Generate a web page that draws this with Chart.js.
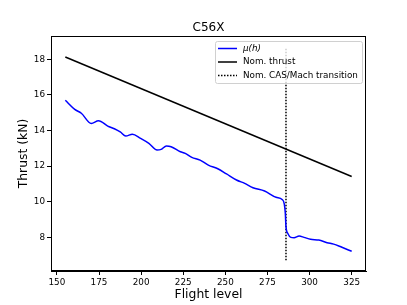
<!DOCTYPE html>
<html>
<head>
<meta charset="utf-8">
<script src="https://cdn.jsdelivr.net/npm/chart.js@4/dist/chart.umd.min.js"></script>
<style>
  html, body { margin: 0; padding: 0; background: #fff; }
  #wrap { width: 407px; height: 305px; }
</style>
</head>
<body>
<div id="wrap"><canvas id="chart" width="407" height="305"></canvas></div>
<script>
// values
const flightLevels = [155, 160.6, 164.5, 170.4, 174.7, 180.2, 184.1, 187.6, 190.9, 194.8, 199.7, 204.6, 209.5, 211.9, 215, 217.8, 223.3, 226.2, 230.1, 235, 239.9, 245.8, 250.7, 256.6, 261.5, 266.4, 273.3, 280.1, 283.7, 285, 285.6, 286, 287.1, 288.9, 290.8, 293.8, 296.7, 300.6, 305.5, 310.4, 314.3, 319.2, 325];
const muThrust = [15.7, 15.19, 14.97, 14.4, 14.55, 14.25, 14.1, 13.92, 13.69, 13.79, 13.56, 13.28, 12.9, 12.94, 13.13, 13.09, 12.81, 12.72, 12.49, 12.34, 12.06, 11.84, 11.56, 11.22, 11.03, 10.79, 10.6, 10.25, 10.13, 9.87, 9.35, 8.6, 8.22, 8.0, 7.98, 8.07, 8.0, 7.89, 7.85, 7.7, 7.62, 7.44, 7.22];
const nomLevels = [155, 325];
const nomThrust = [18.13, 11.42];
const transitionLevel = 286;
const transitionRange = [6.72, 18.62];

const xTicks = [150, 175, 200, 225, 250, 275, 300, 325];
const yTicks = [8, 10, 12, 14, 16, 18];

const labels = ["\u03bc(h)", "Nom. thrust", "Nom. CAS/Mach transition"];
const font = "DejaVu Sans";

// frame, title and legend drawn like matplotlib
const extras = {
  id: "extras",
  afterDraw(chart) {
    const ctx = chart.ctx;
    const a = chart.chartArea;
    ctx.save();
    ctx.strokeStyle = "#000";
    ctx.lineWidth = 1;
    ctx.strokeRect(a.left + 0.5, a.top + 0.5, a.right - a.left - 1, a.bottom - a.top - 1);

    ctx.fillStyle = "#000";
    ctx.font = "12px '" + font + "'";
    ctx.textAlign = "center";
    ctx.textBaseline = "middle";
    ctx.fillText("C56X", (a.left + a.right) / 2, 28);

    // legend
    const bx = 215, by = 41, bw = 147, bh = 42;
    ctx.fillStyle = "rgba(255,255,255,0.8)";
    ctx.strokeStyle = "#d0d0d0";
    ctx.beginPath();
    ctx.roundRect(bx + 0.5, by + 0.5, bw, bh, 2);
    ctx.fill();
    ctx.stroke();
    const rows = [48.5, 62, 75.5];
    chart.data.datasets.forEach((ds, i) => {
      ctx.strokeStyle = ds.borderColor;
      ctx.lineWidth = 1.5;
      ctx.setLineDash(ds.borderDash || []);
      ctx.beginPath();
      ctx.moveTo(218, rows[i]);
      ctx.lineTo(237, rows[i]);
      ctx.stroke();
      ctx.setLineDash([]);
      ctx.fillStyle = "#000";
      ctx.textAlign = "left";
      ctx.font = (i === 0 ? "italic " : "") + "8.8px '" + font + "'";
      ctx.fillText(ds.label, 243, rows[i]);
    });
    ctx.restore();
  }
};

new Chart(document.getElementById("chart"), {
  type: "scatter",
  data: {
    datasets: [
      {
        label: labels[0],
        data: flightLevels.map((x, i) => ({ x: x, y: muThrust[i] })),
        borderColor: "#0000ff",
        borderWidth: 1.5,
        showLine: true,
        pointRadius: 0,
        cubicInterpolationMode: "monotone"
      },
      {
        label: labels[1],
        data: nomLevels.map((x, i) => ({ x: x, y: nomThrust[i] })),
        borderColor: "#000000",
        borderWidth: 1.5,
        showLine: true,
        pointRadius: 0
      },
      {
        label: labels[2],
        data: transitionRange.map(y => ({ x: transitionLevel, y: y })),
        borderColor: "#000000",
        borderWidth: 1.5,
        borderDash: [1.5, 1.5],
        showLine: true,
        pointRadius: 0
      }
    ]
  },
  options: {
    responsive: false,
    animation: false,
    layout: { padding: { top: 36, right: 41, left: 0, bottom: 0 } },
    plugins: {
      legend: { display: false },
      title: { display: false },
      tooltip: { enabled: false }
    },
    scales: {
      x: {
        type: "linear",
        min: 146.5,
        max: 333.5,
        afterBuildTicks: s => { s.ticks = xTicks.map(v => ({ value: v })); },
        afterFit: s => { s.height = 34; },
        grid: { drawOnChartArea: false, tickLength: 4, color: "#000" },
        border: { color: "#000" },
        ticks: { color: "#000", padding: 2, font: { family: font, size: 8.8 }, maxRotation: 0 },
        title: { display: true, text: "Flight level", color: "#000", font: { family: font, size: 12.4 }, padding: { top: 0, bottom: 3 } }
      },
      y: {
        min: 6.11,
        max: 19.31,
        afterBuildTicks: s => { s.ticks = yTicks.map(v => ({ value: v })); },
        afterFit: s => { s.width = 51; },
        grid: { drawOnChartArea: false, tickLength: 4, color: "#000" },
        border: { color: "#000" },
        ticks: { color: "#000", padding: 2, font: { family: font, size: 8.8 } },
        title: { display: true, text: "Thrust (kN)", color: "#000", font: { family: font, size: 12.4 }, padding: { top: 16, bottom: 0 } }
      }
    }
  },
  plugins: [extras]
});
</script>
</body>
</html>
